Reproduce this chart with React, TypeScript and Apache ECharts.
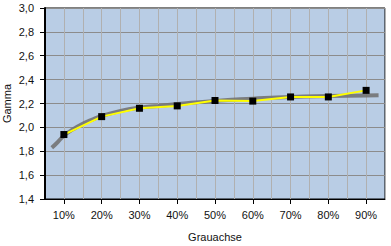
import React, { useEffect, useRef } from "react";
import * as echarts from "echarts";

const categories = ["10%", "20%", "30%", "40%", "50%", "60%", "70%", "80%", "90%"];
const gammaValues = [1.94, 2.09, 2.16, 2.18, 2.225, 2.22, 2.255, 2.255, 2.31];
const curveX = [6.8, 8, 10, 12.5, 15, 17.5, 20, 25, 30, 35, 40, 50, 60, 70, 80, 90, 93.3];
const curveY = [1.83, 1.865, 1.93, 1.985, 2.03, 2.065, 2.095, 2.138, 2.165, 2.18, 2.195, 2.222, 2.24, 2.255, 2.263, 2.268, 2.27];
const yTicks = { min: 1.4, max: 3.0, step: 0.2 };
const xRange = { min: 5, max: 95, step: 5 };

const FONT = "Liberation Sans, Arial, sans-serif";

export default function App() {
  const ref = useRef<HTMLDivElement>(null);
  useEffect(() => {
    if (!ref.current) return;
    const chart = echarts.init(ref.current, undefined, { renderer: "svg" });
    const xs = categories.map((c) => parseFloat(c));
    chart.setOption({
      animation: false,
      grid: {
        left: 45,
        top: 8,
        right: 6,
        bottom: 47,
        outerBoundsMode: "none",
        containLabel: false,
        show: true,
        backgroundColor: "#b9cde5",
        borderColor: "#000",
        borderWidth: 1,
      },
      xAxis: [
        {
          type: "value",
          min: xRange.min,
          max: xRange.max,
          interval: xRange.step,
          axisLine: { show: false },
          axisTick: { show: false },
          axisLabel: { show: false },
          splitLine: { show: true, lineStyle: { color: "#b0b0b0", width: 1 } },
        },
        {
          type: "category",
          data: categories,
          position: "bottom",
          boundaryGap: true,
          axisLine: { show: true, lineStyle: { color: "#000", width: 1 } },
          axisTick: { show: true, alignWithLabel: true, length: 5, lineStyle: { color: "#000" } },
          axisLabel: { color: "#111", fontSize: 11, fontFamily: FONT, margin: 10 },
          splitLine: { show: false },
          name: "Grauachse",
          nameLocation: "middle",
          nameGap: 32,
          nameMoveOverlap: false,
          nameTextStyle: { color: "#111", fontSize: 11, fontFamily: FONT },
        },
      ],
      yAxis: {
        type: "value",
        min: yTicks.min,
        max: yTicks.max,
        interval: yTicks.step,
        axisLine: { show: true, lineStyle: { color: "#000", width: 2 } },
        axisTick: { show: true, length: 5, inside: false, lineStyle: { color: "#000" } },
        axisLabel: {
          color: "#111",
          fontSize: 11,
          fontFamily: FONT,
          margin: 11,
          formatter: (v: number) => v.toFixed(1).replace(".", ","),
        },
        splitLine: { show: true, lineStyle: { color: "#8c8c8c", width: 1 } },
        name: "Gamma",
        nameLocation: "middle",
        nameGap: 33,
        nameMoveOverlap: false,
        nameTextStyle: { color: "#111", fontSize: 11, fontFamily: FONT },
      },
      series: [
        {
          type: "line",
          xAxisIndex: 0,
          data: curveX.map((x, i) => [x, curveY[i]]),
          smooth: true,
          showSymbol: false,
          lineStyle: { color: "rgba(115,115,115,0.9)", width: 4 },
          z: 2,
        },
        {
          type: "line",
          xAxisIndex: 0,
          data: xs.map((x, i) => [x, gammaValues[i]]),
          symbol: "rect",
          symbolSize: 7,
          itemStyle: { color: "#000" },
          lineStyle: { color: "#ffff00", width: 2 },
          z: 3,
        },
      ],
    });
    return () => chart.dispose();
  }, []);
  return <div ref={ref} style={{ width: 391, height: 246, position: "absolute", left: 0, top: 0 }} />;
}
